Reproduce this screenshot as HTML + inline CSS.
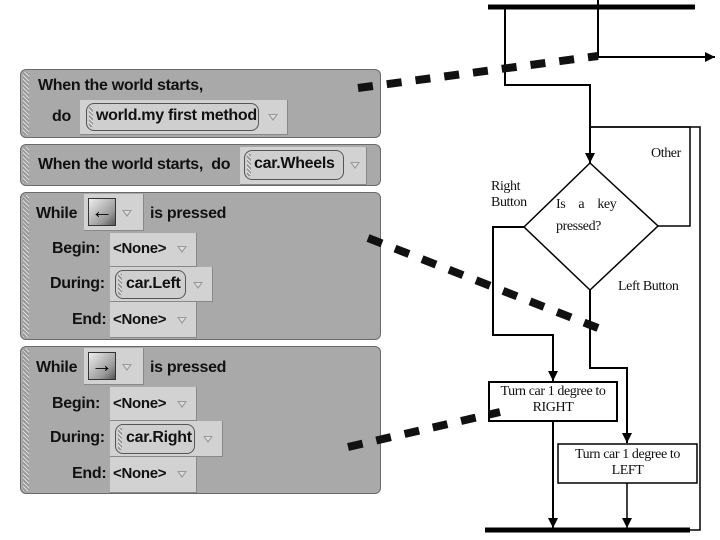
<!DOCTYPE html>
<html><head><meta charset="utf-8"><style>
body{margin:0;width:720px;height:540px;background:#fff;position:relative;overflow:hidden;font-family:"Liberation Sans",sans-serif}
.p{position:absolute;left:20px;width:361px;background:#a9a9a9;border:1px solid #6a6a6a;border-radius:6px;box-sizing:border-box}
.p:before{content:"";position:absolute;left:2px;top:2px;bottom:2px;width:6px;background:repeating-linear-gradient(45deg,#ddd 0 1px,#999 1px 3px)}
.t{position:absolute;font-weight:bold;font-size:16px;color:#111;letter-spacing:-0.3px;white-space:nowrap;line-height:18px}
.b{position:absolute;background:#d2d2d2;border-right:1px solid #888;border-bottom:1px solid #888;box-sizing:border-box}
.pill{position:absolute;border:1px solid #555;border-radius:8px;background:#cfcfcf;box-sizing:border-box}
.pill:before{content:"";position:absolute;left:2px;top:3px;bottom:3px;width:4px;background:repeating-linear-gradient(45deg,#eee 0 1px,#999 1px 3px)}
.tri{position:absolute;width:0;height:0;border-left:5px solid transparent;border-right:5px solid transparent;border-top:7px solid #999}
.tri:after{content:"";position:absolute;left:-3px;top:-6px;border-left:3px solid transparent;border-right:3px solid transparent;border-top:4px solid #ddd}
.key{position:absolute;width:28px;height:28px;background:linear-gradient(135deg,#eee,#999 70%,#555);border:1px solid #333;box-sizing:border-box;font-size:22px;font-weight:bold;text-align:center;line-height:24px}
.s{position:absolute;font-family:"Liberation Serif",serif;font-size:14px;color:#111;letter-spacing:-0.4px;line-height:16px}
</style></head><body>

<div class="p" style="top:69px;height:69px"></div>
<div class="t" style="left:38px;top:77px">When the world starts,</div>
<div class="t" style="left:52px;top:108px">do</div>
<div class="b" style="left:80px;top:100px;width:208px;height:35px"></div>
<div class="pill" style="left:86px;top:103px;width:173px;height:28px"></div>
<div class="t" style="left:96px;top:107px">world.my first method</div>
<div class="tri" style="left:268px;top:114px"></div>

<div class="p" style="top:144px;height:42px"></div>
<div class="t" style="left:38px;top:156px">When the world starts,&nbsp; do</div>
<div class="b" style="left:240px;top:147px;width:127px;height:38px"></div>
<div class="pill" style="left:244px;top:150px;width:100px;height:30px"></div>
<div class="t" style="left:254px;top:155px">car.Wheels</div>
<div class="tri" style="left:350px;top:162px"></div>

<div class="p" style="top:192px;height:148px"></div>
<div class="t" style="left:36px;top:205px">While</div>
<div class="b" style="left:84px;top:194px;width:60px;height:37px"></div>
<div class="key" style="left:88px;top:198px">←</div>
<div class="tri" style="left:122px;top:210px"></div>
<div class="t" style="left:150px;top:205px">is pressed</div>
<div class="t" style="left:52px;top:240px">Begin:</div>
<div class="b" style="left:110px;top:233px;width:87px;height:34px"></div>
<div class="t" style="left:113px;top:240px;font-size:15px">&lt;None&gt;</div>
<div class="tri" style="left:177px;top:246px"></div>
<div class="t" style="left:50px;top:275px">During:</div>
<div class="b" style="left:110px;top:267px;width:103px;height:35px"></div>
<div class="pill" style="left:115px;top:270px;width:71px;height:29px"></div>
<div class="t" style="left:126px;top:275px">car.Left</div>
<div class="tri" style="left:193px;top:282px"></div>
<div class="t" style="left:72px;top:311px">End:</div>
<div class="b" style="left:110px;top:302px;width:87px;height:36px"></div>
<div class="t" style="left:113px;top:311px;font-size:15px">&lt;None&gt;</div>
<div class="tri" style="left:177px;top:317px"></div>

<div class="p" style="top:346px;height:148px"></div>
<div class="t" style="left:36px;top:359px">While</div>
<div class="b" style="left:84px;top:348px;width:60px;height:37px"></div>
<div class="key" style="left:88px;top:352px">→</div>
<div class="tri" style="left:122px;top:364px"></div>
<div class="t" style="left:150px;top:359px">is pressed</div>
<div class="t" style="left:52px;top:395px">Begin:</div>
<div class="b" style="left:110px;top:387px;width:87px;height:34px"></div>
<div class="t" style="left:113px;top:395px;font-size:15px">&lt;None&gt;</div>
<div class="tri" style="left:177px;top:401px"></div>
<div class="t" style="left:50px;top:429px">During:</div>
<div class="b" style="left:110px;top:421px;width:113px;height:36px"></div>
<div class="pill" style="left:115px;top:424px;width:80px;height:30px"></div>
<div class="t" style="left:126px;top:429px">car.Right</div>
<div class="tri" style="left:203px;top:436px"></div>
<div class="t" style="left:72px;top:465px">End:</div>
<div class="b" style="left:110px;top:457px;width:87px;height:36px"></div>
<div class="t" style="left:113px;top:465px;font-size:15px">&lt;None&gt;</div>
<div class="tri" style="left:177px;top:471px"></div>

<svg width="720" height="540" style="position:absolute;left:0;top:0" xmlns="http://www.w3.org/2000/svg">
<defs><marker id="a" viewBox="0 0 10 10" refX="10" refY="5" markerUnits="userSpaceOnUse" markerWidth="10" markerHeight="11" orient="auto"><path d="M0,0L10,5L0,10z" fill="#000"/></marker></defs>
<g stroke="#000" fill="none">
<line x1="488" y1="7" x2="695" y2="7" stroke-width="5"/>
<line x1="485" y1="530" x2="690" y2="530" stroke-width="5"/>
<polyline points="505,7 505,85 590,85 590,163" stroke-width="2" marker-end="url(#a)"/>
<line x1="598" y1="0" x2="598" y2="57" stroke-width="2"/>
<line x1="598" y1="57" x2="715" y2="57" stroke-width="2" marker-end="url(#a)"/>
<polygon points="590,163 658,226 590,290 524,227" stroke-width="1.5"/>
<polyline points="658,226 690,226 690,127 590,127" stroke-width="1.5"/>
<polyline points="590,127 700,127 700,530 690,530" stroke-width="1.5"/>
<polyline points="524,227 493,227 493,335 553,335 553,381" stroke-width="2" marker-end="url(#a)"/>
<polyline points="590,290 590,368 627,368 627,443" stroke-width="2" marker-end="url(#a)"/>
<rect x="489" y="382" width="128" height="39" stroke-width="2" fill="#fff"/>
<rect x="558" y="444" width="139" height="39" stroke-width="1.5" fill="#fff"/>
<line x1="553" y1="421" x2="553" y2="528" stroke-width="2" marker-end="url(#a)"/>
<line x1="627" y1="483" x2="627" y2="528" stroke-width="1.5" marker-end="url(#a)"/>
<g stroke-width="8" stroke-dasharray="15,14" stroke="#111">
<line x1="358" y1="88" x2="598" y2="56"/>
<line x1="368" y1="238" x2="598" y2="328"/>
<line x1="348" y1="447" x2="500" y2="412"/>
</g>
</g>
</svg>
<div class="s" style="left:651px;top:146px">Other</div>
<div class="s" style="left:491px;top:179px">Right<br>Button</div>
<div class="s" style="left:556px;top:197px;word-spacing:10px">Is a key</div>
<div class="s" style="left:556px;top:219px">pressed?</div>
<div class="s" style="left:618px;top:279px">Left Button</div>
<div class="s" style="left:489px;top:384px;width:128px;text-align:center">Turn car 1 degree to<br>RIGHT</div>
<div class="s" style="left:558px;top:447px;width:139px;text-align:center">Turn car 1 degree to<br>LEFT</div>
</body></html>
